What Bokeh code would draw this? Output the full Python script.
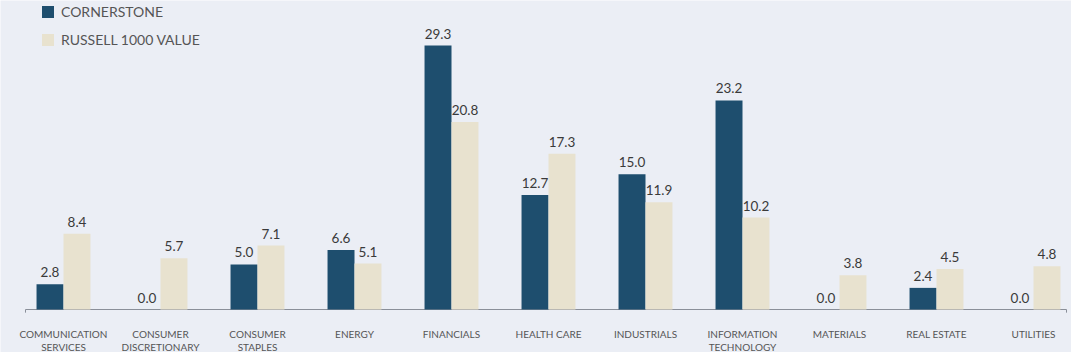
from bokeh.plotting import figure
from bokeh.models import ColumnDataSource, Range1d, Legend, LegendItem
from bokeh.core.properties import value
from bokeh.embed import file_html
from bokeh.resources import INLINE

categories_line1 = ["COMMUNICATION", "CONSUMER", "CONSUMER", "ENERGY", "FINANCIALS", "HEALTH CARE",
                    "INDUSTRIALS", "INFORMATION", "MATERIALS", "REAL ESTATE", "UTILITIES"]
categories_line2 = ["SERVICES", "DISCRETIONARY", "STAPLES", "", "", "", "", "TECHNOLOGY", "", "", ""]
cornerstone = [2.8, 0.0, 5.0, 6.6, 29.3, 12.7, 15.0, 23.2, 0.0, 2.4, 0.0]
russell = [8.4, 5.7, 7.1, 5.1, 20.8, 17.3, 11.9, 10.2, 3.8, 4.5, 4.8]
series_names = ["CORNERSTONE", "RUSSELL 1000 VALUE"]

DARK = "#1E4E6E"
BEIGE = "#E8E2CF"
BG = "#EBEEF5"
FONT = "Lato"

n = len(cornerstone)
idx = list(range(n))
bw = 0.278

src = ColumnDataSource(dict(
    x1=[i - bw / 2 for i in idx],
    x2=[i + bw / 2 for i in idx],
    xc=idx,
    c=cornerstone,
    r=russell,
    cl=[f"{v:.1f}" for v in cornerstone],
    rl=[f"{v:.1f}" for v in russell],
    l1=categories_line1,
    l2=categories_line2,
))

pxu = 97.0
x_start = -63.0 / pxu
x_end = x_start + 1071.0 / pxu
ypu = 9.01
y_end = 309.0 / ypu
y_start = -(352.0 - 309.0) / ypu

p = figure(width=1071, height=352, output_backend="svg", toolbar_location=None,
           x_range=Range1d(x_start, x_end), y_range=Range1d(y_start, y_end),
           min_border=0, background_fill_color=BG, border_fill_color=BG,
           outline_line_color=None)
p.axis.visible = False
p.grid.visible = False

# baseline
ax0 = (25 - 63) / pxu
ax1 = (1066 - 63) / pxu
p.segment(x0=[ax0], y0=[0], x1=[ax1], y1=[0], line_color="#8a8f99", line_width=1)
p.segment(x0=[ax0, ax1], y0=[0, 0], x1=[ax0, ax1], y1=[-0.35, -0.35], line_color="#8a8f99", line_width=1)

b1 = p.vbar(x="x1", top="c", bottom=0, width=bw, source=src, fill_color=DARK, line_color=None)
b2 = p.vbar(x="x2", top="r", bottom=0, width=bw, source=src, fill_color=BEIGE, line_color=None)

p.text(x="x1", y="c", text="cl", source=src, text_align="center", text_baseline="bottom",
       y_offset=-7, text_font=value(FONT), text_font_size="13.5px", text_color="#3a3a3a")
p.text(x="x2", y="r", text="rl", source=src, text_align="center", text_baseline="bottom",
       y_offset=-7, text_font=value(FONT), text_font_size="13.5px", text_color="#3a3a3a")

p.text(x="xc", y=0, text="l1", source=src, text_align="center", text_baseline="middle",
       y_offset=24, text_font=value(FONT), text_font_size="10px", text_color="#555555")
p.text(x="xc", y=0, text="l2", source=src, text_align="center", text_baseline="middle",
       y_offset=37, text_font=value(FONT), text_font_size="10px", text_color="#555555")

legend = Legend(items=[LegendItem(label=series_names[0], renderers=[b1]),
                       LegendItem(label=series_names[1], renderers=[b2])],
                location=(40, 304), orientation="vertical",
                glyph_width=15, glyph_height=15, label_height=15, label_standoff=6,
                spacing=11, padding=0, margin=0,
                background_fill_alpha=0, border_line_color=None,
                label_text_font=FONT, label_text_font_size="14px", label_text_color="#555555")
p.add_layout(legend)

open("out.html", "w").write(file_html(p, INLINE))
